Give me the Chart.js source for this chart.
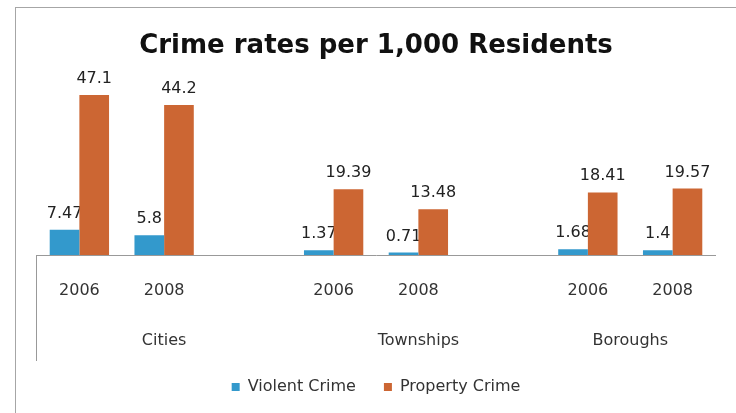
<!DOCTYPE html>
<html>
<head>
<meta charset="utf-8">
<title>Crime rates per 1,000 Residents</title>
<script src="https://cdn.jsdelivr.net/npm/chart.js@4.4.1/dist/chart.umd.min.js"></script>
<style>
    html, body { margin: 0; padding: 0; background: #fff; }
    #wrap { width: 736px; height: 413px; }
</style>
</head>
<body>
<div id="wrap"><canvas id="crime-chart" width="736" height="413"></canvas></div>
<script>
// Slots along the axis: the empty ones separate the three groups
const yearLabels = ['2006', '2008', '', '2006', '2008', '', '2006', '2008'];
const groupNames = ['Cities', 'Townships', 'Boroughs'];
const groupStarts = [0, 3, 6];
const violentCrime = [7.47, 5.8, null, 1.37, 0.71, null, 1.68, 1.4];
const propertyCrime = [47.1, 44.2, null, 19.39, 13.48, null, 18.41, 19.57];

const FONT = 'DejaVu Sans';

const CrimeChart = {
    chart: null,

    init: function() {
        const ctx = document.getElementById('crime-chart').getContext('2d');
        this.chart = new Chart(ctx, {
            type: 'bar',
            data: {
                labels: yearLabels,
                datasets: [{
                    label: 'Violent Crime',
                    data: violentCrime,
                    backgroundColor: '#3399cc'
                }, {
                    label: 'Property Crime',
                    data: propertyCrime,
                    backgroundColor: '#cc6633'
                }]
            },
            options: {
                responsive: false,
                animation: false,
                layout: {
                    padding: { left: 37, right: 21, top: 0, bottom: 8 }
                },
                datasets: {
                    bar: { categoryPercentage: 0.70, barPercentage: 1.0 }
                },
                scales: {
                    x: {
                        grid: { display: false },
                        border: { display: true, color: '#999999', width: 1 },
                        ticks: {
                            autoSkip: false,
                            maxRotation: 0,
                            padding: 18,
                            color: '#333333',
                            font: { family: FONT, size: 16 }
                        },
                        afterFit: function(scale) { scale.height = 96; }
                    },
                    y: {
                        display: false,
                        min: 0,
                        max: 50
                    }
                },
                plugins: {
                    title: {
                        display: true,
                        text: 'Crime rates per 1,000 Residents',
                        color: '#111111',
                        font: { family: FONT, size: 26, weight: 'bold' },
                        padding: { top: 31, bottom: 23 }
                    },
                    legend: {
                        position: 'bottom',
                        fullSize: false,
                        labels: {
                            boxWidth: 8,
                            boxHeight: 8,
                            padding: 28,
                            color: '#333333',
                            font: { family: FONT, size: 16 }
                        }
                    },
                    tooltip: { enabled: false }
                }
            },
            plugins: [this.framePlugin, this.valueLabelPlugin]
        });
    },

    // outer frame, the left divider under the axis and the group names
    framePlugin: {
        id: 'frame',
        beforeDraw: function(chart) {
            const c = chart.ctx;
            c.save();
            c.fillStyle = '#ffffff';
            c.fillRect(0, 0, chart.width, chart.height);
            c.strokeStyle = '#a6a6a6';
            c.lineWidth = 1;
            c.strokeRect(15.5, 7.5, chart.width + 20, chart.height + 20);
            c.restore();
        },
        afterDraw: function(chart) {
            const c = chart.ctx;
            const area = chart.chartArea;
            const x = chart.scales.x;
            c.save();
            c.strokeStyle = '#999999';
            c.lineWidth = 1;
            c.beginPath();
            c.moveTo(Math.round(area.left) - 0.5, area.bottom);
            c.lineTo(Math.round(area.left) - 0.5, area.bottom + 106);
            c.stroke();

            c.fillStyle = '#333333';
            c.font = '16px "' + FONT + '"';
            c.textAlign = 'center';
            c.textBaseline = 'middle';
            groupNames.forEach(function(name, i) {
                const first = groupStarts[i];
                const last = i + 1 < groupStarts.length ? groupStarts[i + 1] - 1 : yearLabels.length - 1;
                const mid = (x.getPixelForValue(first) + x.getPixelForValue(last)) / 2;
                c.fillText(name, mid, area.bottom + 86);
            });
            c.restore();
        }
    },

    // values above bars; violent labels go under the property bars
    valueLabelPlugin: {
        id: 'valueLabels',
        drawLabels: function(chart, index) {
            const c = chart.ctx;
            const meta = chart.getDatasetMeta(index);
            const values = chart.data.datasets[index].data;
            c.save();
            c.fillStyle = '#222222';
            c.font = '16px "' + FONT + '"';
            c.textAlign = 'center';
            c.textBaseline = 'alphabetic';
            meta.data.forEach(function(bar, i) {
                if (values[i] === null) return;
                c.fillText(String(values[i]), bar.x, bar.y - 12);
            });
            c.restore();
        },
        beforeDatasetsDraw: function(chart) {
            this.drawLabels(chart, 0);
        },
        afterDatasetsDraw: function(chart) {
            this.drawLabels(chart, 1);
        }
    }
};

CrimeChart.init();
</script>
</body>
</html>
